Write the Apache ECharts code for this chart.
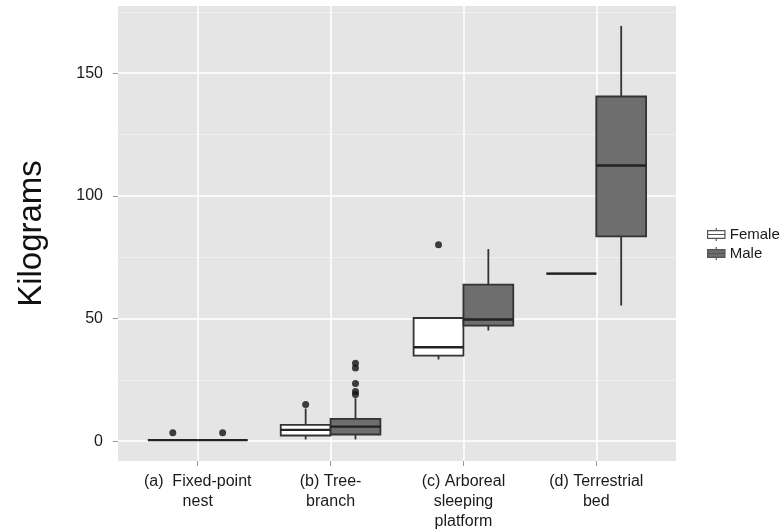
<!DOCTYPE html>
<html>
<head>
<meta charset="utf-8">
<script src="https://cdn.jsdelivr.net/npm/echarts@6/dist/echarts.min.js"></script>
<style>
html,body{margin:0;padding:0;background:#fff;}
#chart{width:783px;height:532px;}
</style>
</head>
<body>
<div id="chart"></div>
<script>
// ---- data ----
const categories = ['(a)  Fixed-point\nnest', '(b) Tree-\nbranch', '(c) Arboreal\nsleeping\nplatform', '(d) Terrestrial\nbed'];
// [lower whisker, Q1, median, Q3, upper whisker]
const femaleBoxes = [
  [0.4, 0.4, 0.4, 0.4, 0.4],
  [0.7, 2.3, 4.6, 6.6, 13.3],
  [33.3, 34.9, 38.3, 50.2, 50.2],
  [68.3, 68.3, 68.3, 68.3, 68.3]
];
const maleBoxes = [
  [0.4, 0.4, 0.4, 0.4, 0.4],
  [0.7, 2.7, 5.9, 9.1, 17.5],
  [45.1, 47.1, 49.6, 63.8, 78.3],
  [55.3, 83.5, 112.4, 140.5, 169.3]
];
// [category index, value]
const femaleOutliers = [[0, 3.4], [1, 14.9], [2, 80.1]];
const maleOutliers = [[0, 3.4], [1, 19.0], [1, 20.2], [1, 23.5], [1, 29.8], [1, 31.8]];
const yMajorTicks = [0, 50, 100, 150];
const yMinorTicks = [25, 75, 125, 175];
const seriesNames = ['Female', 'Male'];

// ---- styling ----
const DODGE = 0.1875;       // offset of each dodged box from the category centre
const HALF = 0.1875;        // half box width (category units)
const fills = { Female: '#ffffff', Male: '#6e6e6e' };
const stroke = '#333333';

function boxData(boxes) {
  return boxes.map((b, i) => [i].concat(b));
}
function outlierData(list, off) {
  return list.map(o => [o[0] + off, o[1]]);
}
function makeRender(offset, fill) {
  return function (params, api) {
    const xc = api.value(0) + offset;
    const lo = api.value(1), q1 = api.value(2), med = api.value(3), q3 = api.value(4), hi = api.value(5);
    const pl = api.coord([xc - HALF, q1]);
    const pr = api.coord([xc + HALF, q3]);
    const pm = api.coord([xc, med]);
    const pmr = api.coord([xc + HALF, med]);
    const pLo = api.coord([xc, lo]);
    const pHi = api.coord([xc, hi]);
    const pQ1 = api.coord([xc, q1]);
    const pQ3 = api.coord([xc, q3]);
    const lw = 1.8;
    return {
      type: 'group',
      children: [
        { type: 'line', shape: { x1: pHi[0], y1: pHi[1], x2: pQ3[0], y2: pQ3[1] }, style: { stroke: stroke, lineWidth: lw } },
        { type: 'line', shape: { x1: pQ1[0], y1: pQ1[1], x2: pLo[0], y2: pLo[1] }, style: { stroke: stroke, lineWidth: lw } },
        { type: 'rect', shape: { x: pl[0], y: pr[1], width: pr[0] - pl[0], height: pl[1] - pr[1] }, style: { fill: fill, stroke: stroke, lineWidth: lw } },
        { type: 'line', shape: { x1: pl[0], y1: pm[1], x2: pmr[0], y2: pm[1] }, style: { stroke: '#222', lineWidth: 2.4 } }
      ]
    };
  };
}

const legendIcon = 'path://M0,3 L20,3 L20,12 L0,12 Z M0,7.5 L20,7.5 M10,0 L10,3 M10,12 L10,15';

const chart = echarts.init(document.getElementById('chart'), null, { renderer: 'canvas' });
chart.setOption({
  animation: false,
  backgroundColor: '#ffffff',
  grid: {
    left: 118, top: 6, right: 107, bottom: 70,
    show: true, backgroundColor: '#e5e5e5', borderWidth: 0
  },
  legend: {
    orient: 'vertical',
    left: 702, top: 222,
    itemWidth: 21, itemHeight: 13, itemGap: 4,
    textStyle: { fontFamily: 'Liberation Sans, Arial, sans-serif', fontSize: 15, color: '#1a1a1a', padding: [0, 0, 0, -2] },
    data: [
      { name: 'Female', icon: legendIcon, itemStyle: { color: '#ffffff', borderColor: '#555', borderWidth: 1.2 } },
      { name: 'Male', icon: legendIcon, itemStyle: { color: '#6e6e6e', borderColor: '#555', borderWidth: 1.2 } }
    ]
  },
  xAxis: {
    type: 'value', min: -0.6, max: 3.6,
    axisLine: { show: false, onZero: false },
    axisTick: { show: true, length: 5, lineStyle: { color: '#999', width: 1 }, customValues: [0, 1, 2, 3] },
    axisLabel: {
      customValues: [0, 1, 2, 3],
      formatter: v => categories[Math.round(v)],
      fontFamily: 'Liberation Sans, Arial, sans-serif', fontSize: 16, lineHeight: 20, color: '#1a1a1a', margin: 11
    },
    splitLine: { show: true, lineStyle: { color: '#ffffff', width: 1.5 } }
  },
  yAxis: [{
    type: 'value', min: -8.1, max: 177.4,
    name: 'Kilograms', nameLocation: 'middle', nameGap: 70,
    nameTextStyle: { fontFamily: 'Liberation Sans, Arial, sans-serif', fontSize: 33, color: '#111' },
    axisLine: { show: false, onZero: false },
    axisTick: { show: true, length: 5, lineStyle: { color: '#999', width: 1 }, customValues: yMajorTicks },
    axisLabel: { customValues: yMajorTicks, fontFamily: 'Liberation Sans, Arial, sans-serif', fontSize: 16, color: '#1a1a1a', margin: 15 },
    splitLine: { show: true, lineStyle: { color: '#ffffff', width: 1.5 } }
  }, {
    type: 'value', min: -8.1, max: 177.4, position: 'left',
    axisLine: { show: false, onZero: false },
    axisTick: { show: false, customValues: yMinorTicks },
    axisLabel: { show: false, customValues: yMinorTicks },
    splitLine: { show: true, lineStyle: { color: '#f0f0f0', width: 1 } }
  }],
  series: [
    {
      name: 'Female', type: 'custom', xAxisIndex: 0, yAxisIndex: 0,
      renderItem: makeRender(-DODGE, fills.Female),
      encode: { x: 0, y: [1, 2, 3, 4, 5] },
      itemStyle: { color: '#ffffff', borderColor: '#555' },
      data: boxData(femaleBoxes), z: 3
    },
    {
      name: 'Male', type: 'custom', xAxisIndex: 0, yAxisIndex: 0,
      renderItem: makeRender(DODGE, fills.Male),
      encode: { x: 0, y: [1, 2, 3, 4, 5] },
      itemStyle: { color: '#6e6e6e', borderColor: '#555' },
      data: boxData(maleBoxes), z: 3
    },
    {
      name: 'Female', type: 'scatter', symbol: 'circle', symbolSize: 7,
      itemStyle: { color: '#111' }, data: outlierData(femaleOutliers, -DODGE), z: 4
    },
    {
      name: 'Male', type: 'scatter', symbol: 'circle', symbolSize: 7,
      itemStyle: { color: '#111' }, data: outlierData(maleOutliers, DODGE), z: 4
    }
  ]
});
</script>
</body>
</html>
